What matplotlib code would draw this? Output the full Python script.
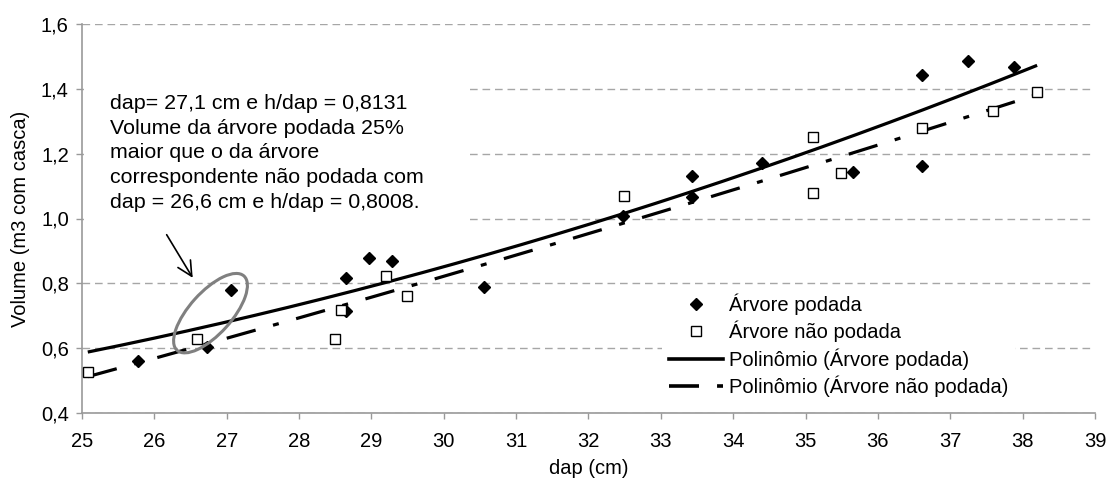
import numpy as np
import matplotlib
matplotlib.use("Agg")
import matplotlib.pyplot as plt
from matplotlib.patches import Ellipse, Rectangle
from matplotlib import transforms
from matplotlib.lines import Line2D

plt.rcParams['font.family'] = ['Liberation Sans', 'DejaVu Sans']
plt.rcParams['lines.scale_dashes'] = False

# ---- data ----
podada_x = [25.77, 26.73, 27.06, 28.65, 28.65, 28.97, 29.29, 30.56, 32.48,
            33.43, 33.43, 34.40, 35.66, 36.61, 36.61, 37.24, 37.88]
podada_y = [0.560, 0.604, 0.780, 0.816, 0.715, 0.878, 0.869, 0.789, 1.008,
            1.131, 1.067, 1.171, 1.144, 1.443, 1.162, 1.486, 1.467]

nao_x = [25.08, 26.59, 28.49, 28.58, 29.20, 29.49, 32.49, 35.10, 35.10,
         35.49, 36.61, 37.59, 38.20]
nao_y = [0.527, 0.628, 0.628, 0.718, 0.823, 0.761, 1.070, 1.251, 1.079,
         1.140, 1.279, 1.332, 1.390]

x_ticks = list(range(25, 40))
y_ticks = [0.4, 0.6, 0.8, 1.0, 1.2, 1.4, 1.6]
y_tick_labels = ['0,4', '0,6', '0,8', '1,0', '1,2', '1,4', '1,6']

note_text = ("dap= 27,1 cm e h/dap = 0,8131\n"
             "Volume da árvore podada 25%\n"
             "maior que o da árvore\n"
             "correspondente não podada com\n"
             "dap = 26,6 cm e h/dap = 0,8008.")

labels = ['Árvore podada', 'Árvore não podada',
          'Polinômio (Árvore podada)', 'Polinômio (Árvore não podada)']

FS = 14.5
W, H = 1107, 479
fig = plt.figure(figsize=(W / 100, H / 100), dpi=100)
ax = fig.add_axes([82 / W, 1 - 413 / H, (1095 - 82) / W, (413 - 24) / H])

ax.set_xlim(25, 39)
ax.set_ylim(0.4, 1.6)
ax.set_xticks(x_ticks)
ax.set_yticks(y_ticks)
ax.set_yticklabels(y_tick_labels)
ax.tick_params(axis='both', labelsize=FS, color='#999999', length=4.5, width=1)
ax.tick_params(axis='y', pad=5)
ax.tick_params(axis='x', pad=9)
for s in ['top', 'right']:
    ax.spines[s].set_visible(False)
for s in ['left', 'bottom']:
    ax.spines[s].set_color('#999999')
    ax.spines[s].set_linewidth(1.2)

ax.set_axisbelow(True)
ax.yaxis.grid(True, color='#a6a6a6', linestyle=(0, (5.5, 3.5)), linewidth=1)

# white box that hides gridlines behind the note
def px_rect(x0, y0, x1, y1):
    r = Rectangle((x0 / W, 1 - y1 / H), (x1 - x0) / W, (y1 - y0) / H,
                  transform=fig.transFigure, facecolor='white',
                  edgecolor='none', zorder=1)
    ax.add_artist(r)
    r.set_clip_on(False)
px_rect(84, 40, 466, 252)

# trend lines (2nd degree polynomials)
xs_all = np.array(podada_x + nao_x)
xx = np.linspace(xs_all.min(), xs_all.max(), 200)
cp = np.polyfit(podada_x, podada_y, 2)
cn = np.polyfit(nao_x, nao_y, 2)
dash = (0, (21.6, 13, 4.3, 13))
ax.plot(xx, np.polyval(cp, xx), color='black', lw=2.3, zorder=3,
        solid_capstyle='butt')
ax.plot(xx, np.polyval(cn, xx), color='black', lw=2.3, zorder=3,
        linestyle=dash)

ax.plot(podada_x, podada_y, linestyle='none', marker='D', ms=6.5,
        color='black', zorder=4)
ax.plot(nao_x, nao_y, linestyle='none', marker='s', ms=7.5,
        markerfacecolor='white', markeredgecolor='black', mew=1.0, zorder=4)

# note text
fig.text(110 / W, 1 - 94 / H, note_text, fontsize=15.4, va='top', ha='left',
         linespacing=1.375, zorder=5)

# ellipse drawn in inches around a data-point center
tr = fig.dpi_scale_trans + transforms.ScaledTranslation(26.776, 0.708, ax.transData)
ell = Ellipse((0, 0), 1.00, 0.42, angle=48, transform=tr, facecolor='none',
              edgecolor='#808080', lw=2.2, zorder=5)
ax.add_artist(ell)

ax.annotate('', xy=(26.53, 0.817), xytext=(26.17, 0.95),
            arrowprops=dict(arrowstyle='->,head_length=0.7,head_width=0.35',
                            mutation_scale=15, color='black', lw=1.2,
                            shrinkA=0, shrinkB=0))

ax.set_xlabel('dap (cm)', fontsize=FS, labelpad=6)
ax.set_ylabel('Volume (m3 com casca)', fontsize=FS, labelpad=8)

handles = [
    Line2D([], [], linestyle='none', marker='D', ms=6.5, color='black'),
    Line2D([], [], linestyle='none', marker='s', ms=7.5, markerfacecolor='white',
           markeredgecolor='black', mew=1.0),
    Line2D([], [], color='black', lw=2.6),
    Line2D([], [], color='black', lw=2.6, linestyle=dash),
]
leg = ax.legend(handles, labels, loc='upper left',
                bbox_to_anchor=(662 / W, 1 - 286 / H),
                bbox_transform=fig.transFigure, fontsize=FS, frameon=True,
                fancybox=False, edgecolor='none', facecolor='white',
                framealpha=1, borderpad=0.35, borderaxespad=0,
                handlelength=2.68, handletextpad=0.3, labelspacing=0.3,
                numpoints=1)
leg.set_zorder(2.5)

fig.savefig('out.png', dpi=100)
